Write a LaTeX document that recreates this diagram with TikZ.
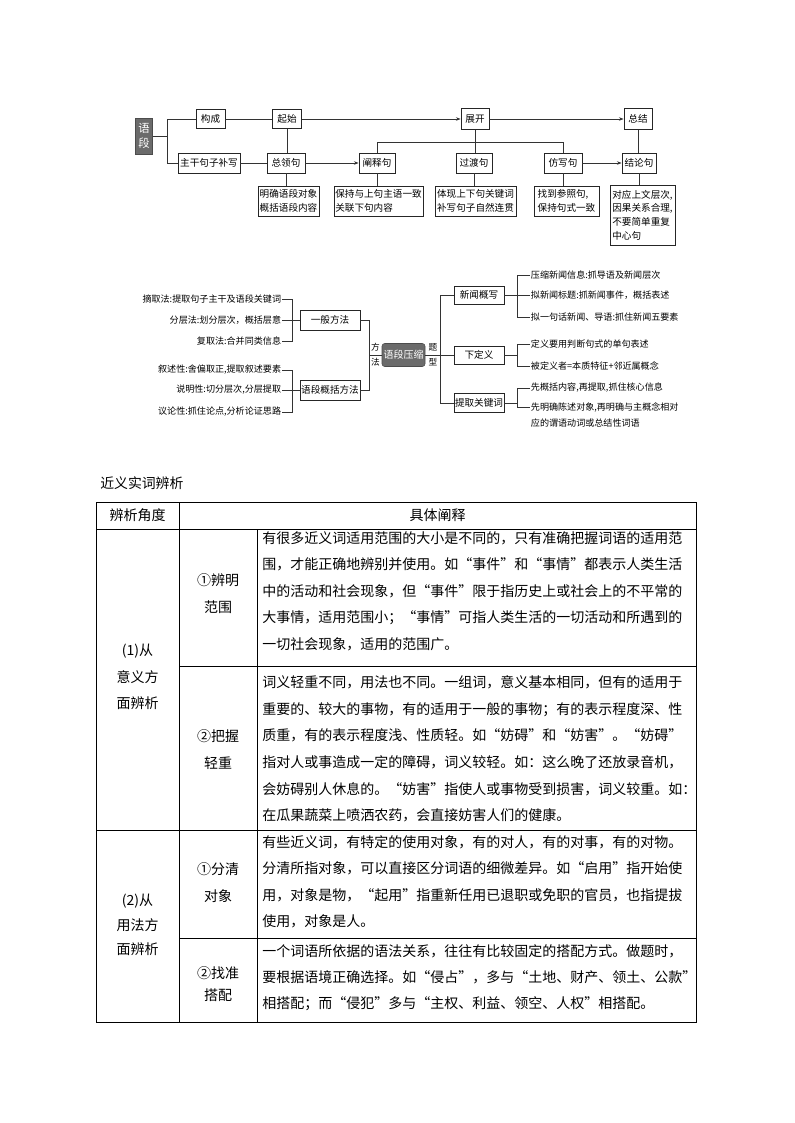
\documentclass[tikz,border=0pt]{standalone}
\usepackage{fontspec}
\setmainfont{Noto Sans CJK SC}
\usetikzlibrary{arrows.meta}
\begin{document}
\begin{tikzpicture}[x=0.75pt,y=-0.75pt,
  ln/.style={draw=black!80, line width=0.6pt},
  arr/.style={ln, -{Stealth[length=3.5pt,width=2.6pt]}},
  bx/.style={draw=black!85, line width=0.6pt, fill=white, inner sep=0pt, font=\fontsize{7.2}{9}\selectfont},
  dbx/.style={bx, align=left, font=\fontsize{7.2}{10.3}\selectfont},
  dark/.style={draw=black!70, fill=black!58, text=white, inner sep=0pt},
  mt/.style={inner sep=0.5pt, font=\fontsize{6.8}{8}\selectfont},
  sm/.style={inner sep=0pt, font=\fontsize{6.5}{8}\selectfont},
  tt/.style={inner sep=0pt, font=\fontsize{10.5}{12}\selectfont},
  tl/.style={draw=black, line width=0.75pt}]
\useasboundingbox[fill=white] (0,0) rectangle (794,1123);

% ---------------- top diagram ----------------
\node[dark, minimum width=12.75pt, minimum height=27pt, align=center, font=\fontsize{8.5}{11}\selectfont] (yd) at (144,136) {语\\段};
\node[bx, minimum width=21.75pt, minimum height=14.25pt] (gc) at (210.5,119) {构成};
\node[bx, minimum width=21.75pt, minimum height=14.25pt] (qs) at (287,119) {起始};
\node[bx, minimum width=21pt, minimum height=15.75pt] (zk) at (475,119) {展开};
\node[bx, minimum width=21pt, minimum height=15.75pt] (zj) at (638,119) {总结};

\node[bx, minimum width=46.5pt, minimum height=15pt] (zg) at (209,163) {主干句子补写};
\node[bx, minimum width=28.5pt, minimum height=15pt] (zl) at (286,163) {总领句};
\node[bx, minimum width=27pt, minimum height=15pt] (cs) at (377,163) {阐释句};
\node[bx, minimum width=27pt, minimum height=15pt] (gd) at (474,163) {过渡句};
\node[bx, minimum width=28.5pt, minimum height=15pt] (fx) at (563,163) {仿写句};
\node[bx, minimum width=25.5pt, minimum height=15pt] (jl) at (639,163) {结论句};

\node[dbx, minimum width=45.75pt, minimum height=22.5pt] (d1) at (288.5,201) {明确语段对象\\概括语段内容};
\node[dbx, minimum width=66.75pt, minimum height=22.5pt] (d2) at (378.5,201) {保持与上句主语一致\\关联下句内容};
\node[dbx, minimum width=60.75pt, minimum height=22.5pt] (d3) at (475.5,201) {体现上下句关键词\\补写句子自然连贯};
\node[dbx, minimum width=48.75pt, minimum height=22.5pt] (d4) at (566.5,201) {找到参照句,\\保持句式一致};
\node[dbx, minimum width=48.75pt, minimum height=45pt] (d5) at (642.5,215) {对应上文层次,\\因果关系合理,\\不要简单重复\\中心句};

\coordinate (ydj) at (167,136);
\draw[ln] (yd.east) -- (ydj);
\draw[ln] (gc.west) -| (ydj);
\draw[ln] (zg.west) -| (ydj);
\draw[ln] (gc) -- (qs);
\draw[arr] (qs) -- (zk);
\draw[arr] (zk) -- (zj);
\draw[ln] (qs.south) -- (qs.south |- zl.north);
\draw[ln] (zg) -- (zl);
\draw[arr] (zl) -- (cs);
\coordinate (hc) at (0,142);
\draw[ln] (cs.north) |- (fx.north |- hc) -- (fx.north);
\draw[ln] (zk.south) -- (zk.south |- gd.north);
\draw[arr] (fx) -- (jl);
\draw[ln] (zj.south) -- (zj.south |- jl.north);
\draw[ln] (zl.south) -- (zl.south |- d1.north);
\draw[ln] (cs.south) -- (cs.south |- d2.north);
\draw[ln] (gd.south) -- (gd.south |- d3.north);
\draw[ln] (fx.south) -- (fx.south |- d4.north);
\draw[ln] (jl.south) -- (jl.south |- d5.north);

% ---------------- middle diagram ----------------
\node[mt, anchor=east] (t1) at (282,299) {摘取法:提取句子主干及语段关键词};
\node[mt, anchor=east] (t2) at (282,320) {分层法:划分层次，概括层意};
\node[mt, anchor=east] (t3) at (282,341) {复取法:合并同类信息};
\node[mt, anchor=east] (t4) at (282,370) {叙述性:舍偏取正,提取叙述要素};
\node[mt, anchor=east] (t5) at (282,390) {说明性:切分层次,分层提取};
\node[mt, anchor=east] (t6) at (282,412) {议论性:抓住论点,分析论证思路};

\node[bx, minimum width=45pt, minimum height=15pt] (ybff) at (330,320) {一般方法};
\node[bx, minimum width=45pt, minimum height=15pt] (gkff) at (330,390) {语段概括方法};
\node[dark, rounded corners=2pt, minimum width=32.25pt, minimum height=17.25pt, font=\fontsize{7.5}{9}\selectfont] (ydys) at (403.5,355) {语段压缩};

\coordinate (v1) at (292,0);
\draw[ln] (t1.east) -| (v1 |- t3.east) -- (t3.east);
\draw[ln] (t2.east) -- (ybff.west);
\draw[ln] (t4.east) -| (v1 |- t6.east) -- (t6.east);
\draw[ln] (t5.east) -- (gkff.west);

\coordinate (v2) at (369,0);
\draw[ln] (ybff.east) -| (v2 |- gkff.east) -- (gkff.east);
\draw[ln] (v2 |- ydys.west) -- (ydys.west);
\node[sm] (lf) at (375.5,347) {方};
\node[sm] (lfa) at (375.5,362) {法};

\node[bx, minimum width=37.5pt, minimum height=13.5pt] (xwgx) at (479,295) {新闻概写};
\node[bx, minimum width=37.5pt, minimum height=13.5pt] (xdy) at (479,355) {下定义};
\node[bx, minimum width=37.5pt, minimum height=14.25pt] (tq) at (479,403) {提取关键词};

\coordinate (v3) at (440,0);
\draw[ln] (ydys.east) -- (xdy.west);
\draw[ln] (xwgx.west) -| (v3 |- tq.west) -- (tq.west);
\node[sm] (lt) at (433,347) {题};
\node[sm] (ltx) at (433,362) {型};

\node[mt, anchor=west] (n1) at (530,275) {压缩新闻信息:抓导语及新闻层次};
\node[mt, anchor=west] (n2) at (530,295) {拟新闻标题:抓新闻事件，概括表述};
\node[mt, anchor=west] (n3) at (530,317) {拟一句话新闻、导语:抓住新闻五要素};
\node[mt, anchor=west] (x1) at (530,344) {定义要用判断句式的单句表述};
\node[mt, anchor=west] (x2) at (530,366) {被定义者=本质特征+邻近属概念};
\node[mt, anchor=west] (k1) at (530,388) {先概括内容,再提取,抓住核心信息};
\node[mt, anchor=west] (k2) at (530,407) {先明确陈述对象,再明确与主概念相对};
\node[mt, anchor=west] (k3) at (530,423) {应的谓语动词或总结性词语};

\coordinate (v4) at (517,0);
\draw[ln] (xwgx.east) -- (n2.west);
\draw[ln] (n1.west) -| (v4 |- n3.west) -- (n3.west);
\draw[ln] (xdy.east) -- (v4 |- xdy.east);
\draw[ln] (x1.west) -| (v4 |- x2.west) -- (x2.west);
\draw[ln] (tq.east) -- (v4 |- tq.east);
\draw[ln] (k1.west) -| (v4 |- k2.west) -- (k2.west);

% ---------------- table ----------------
\node[inner sep=0pt, anchor=west, font=\fontsize{10.4}{12}\selectfont] (title) at (100,483) {近义实词辨析};

\draw[tl] (96,502) rectangle (696,1022);
\draw[tl] (96,529) -- (696,529);
\draw[tl] (179,502) -- (179,1022);
\draw[tl] (257,529) -- (257,1022);
\draw[tl] (179,666) -- (696,666);
\draw[tl] (96,830) -- (696,830);
\draw[tl] (179,938) -- (696,938);

\node[tt] (h1) at (137.5,515.5) {辨析角度};
\node[tt] (h2) at (437.5,515.5) {具体阐释};

\node[tt, align=center, font=\fontsize{10.5}{19.9}\selectfont] (c11) at (137.5,677) {(1)从\\意义方\\面辨析};
\node[tt, align=center, font=\fontsize{10.5}{18.4}\selectfont] (c12) at (137.5,925) {(2)从\\用法方\\面辨析};

\node[tt, align=center, font=\fontsize{10.5}{20.25}\selectfont] (c21) at (218,594) {①辨明\\范围};
\node[tt, align=center, font=\fontsize{10.5}{20.25}\selectfont] (c22) at (218,750) {②把握\\轻重};
\node[tt, align=center, font=\fontsize{10.5}{20.25}\selectfont] (c23) at (218,883) {①分清\\对象};
\node[tt, align=center, font=\fontsize{10.5}{16.5}\selectfont] (c24) at (218,984) {②找准\\搭配};

\node[tt, anchor=west, align=left, font=\fontsize{10.5}{19.9}\selectfont] (c31) at (262,591) {有很多近义词适用范围的大小是不同的，只有准确把握词语的适用范\\围，才能正确地辨别并使用。如“事件”和“事情”都表示人类生活\\中的活动和社会现象，但“事件”限于指历史上或社会上的不平常的\\大事情，适用范围小；“事情”可指人类生活的一切活动和所遇到的\\一切社会现象，适用的范围广。};
\node[tt, anchor=west, align=left, font=\fontsize{10.5}{19.9}\selectfont] (c32) at (262,749) {词义轻重不同，用法也不同。一组词，意义基本相同，但有的适用于\\重要的、较大的事物，有的适用于一般的事物；有的表示程度深、性\\质重，有的表示程度浅、性质轻。如“妨碍”和“妨害”。“妨碍”\\指对人或事造成一定的障碍，词义较轻。如：这么晚了还放录音机，\\会妨碍别人休息的。“妨害”指使人或事物受到损害，词义较重。如：\\在瓜果蔬菜上喷洒农药，会直接妨害人们的健康。};
\node[tt, anchor=west, align=left, font=\fontsize{10.5}{19.9}\selectfont] (c33) at (262,882) {有些近义词，有特定的使用对象，有的对人，有的对事，有的对物。\\分清所指对象，可以直接区分词语的细微差异。如“启用”指开始使\\用，对象是物，“起用”指重新任用已退职或免职的官员，也指提拔\\使用，对象是人。};
\node[tt, anchor=west, align=left, font=\fontsize{10.5}{19.5}\selectfont] (c34) at (262,978) {一个词语所依据的语法关系，往往有比较固定的搭配方式。做题时，\\要根据语境正确选择。如“侵占”，多与“土地、财产、领土、公款”\\相搭配；而“侵犯”多与“主权、利益、领空、人权”相搭配。};
\end{tikzpicture}
\end{document}
